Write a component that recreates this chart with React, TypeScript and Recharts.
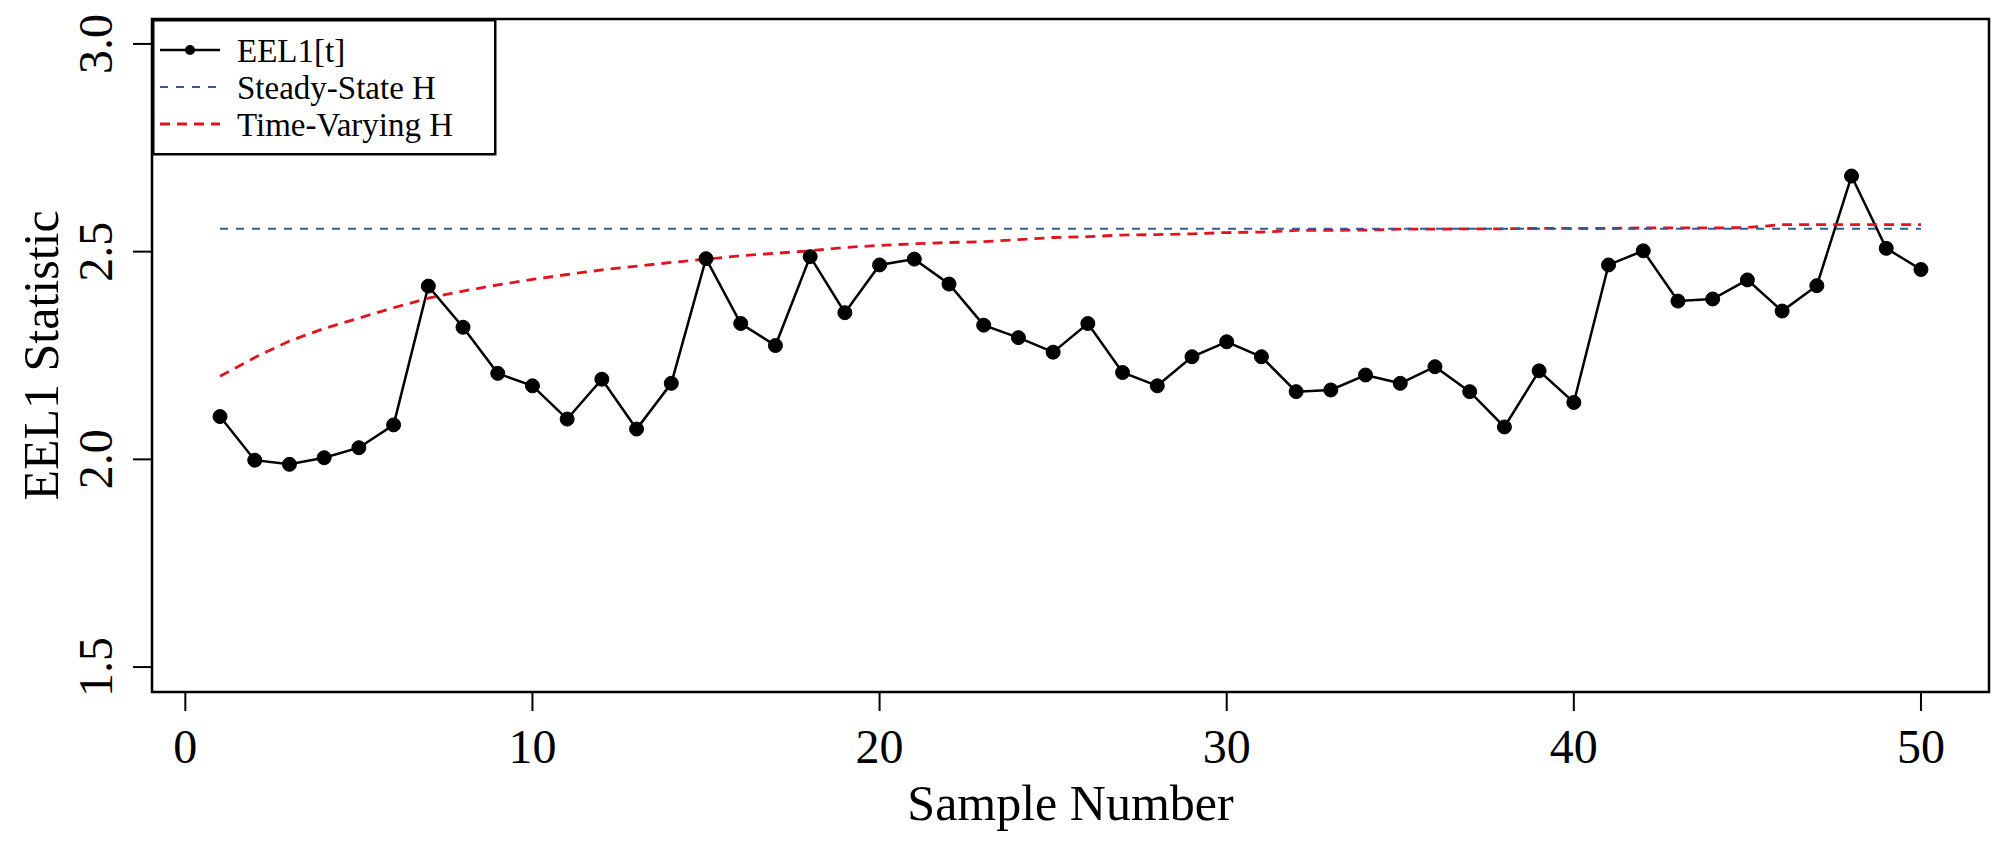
import { LineChart, Line, XAxis, YAxis, ReferenceArea, ReferenceLine, Legend, Label } from 'recharts';

const SAMPLES = [
  1, 2, 3, 4, 5, 6, 7, 8, 9, 10, 11, 12, 13, 14, 15, 16, 17, 18, 19, 20, 21, 22, 23, 24, 25,
  26, 27, 28, 29, 30, 31, 32, 33, 34, 35, 36, 37, 38, 39, 40, 41, 42, 43, 44, 45, 46, 47, 48, 49, 50,
];

const EEL1 = [
  2.103, 1.998, 1.988, 2.004, 2.028, 2.083, 2.417, 2.318, 2.207, 2.177,
  2.097, 2.193, 2.073, 2.183, 2.483, 2.327, 2.274, 2.488, 2.353, 2.468,
  2.482, 2.422, 2.323, 2.293, 2.258, 2.327, 2.209, 2.177, 2.247, 2.283,
  2.247, 2.163, 2.167, 2.203, 2.183, 2.223, 2.163, 2.078, 2.213, 2.137,
  2.468, 2.502, 2.381, 2.386, 2.432, 2.357, 2.418, 2.682, 2.508, 2.457,
];

const TIME_VARYING_H = [
  2.200, 2.245, 2.285, 2.315, 2.340, 2.365, 2.388, 2.405, 2.420, 2.433,
  2.445, 2.456, 2.465, 2.474, 2.482, 2.490, 2.496, 2.502, 2.510, 2.515,
  2.519, 2.522, 2.524, 2.529, 2.534, 2.536, 2.540, 2.541, 2.543, 2.546,
  2.547, 2.551, 2.551, 2.552, 2.554, 2.554, 2.555, 2.555, 2.556, 2.556,
  2.556, 2.557, 2.557, 2.557, 2.558, 2.565, 2.565, 2.565, 2.565, 2.565,
];

const STEADY_STATE_H = 2.555;

const X_TICKS = [0, 10, 20, 30, 40, 50];
const Y_TICKS = [1.5, 2.0, 2.5, 3.0];
const X_DOMAIN = [-0.96, 51.96];
const Y_DOMAIN = [1.44, 3.06];

const LEGEND_ITEMS = ['EEL1[t]', 'Steady-State H', 'Time-Varying H'];

const data = SAMPLES.map((x, i) => ({ x, eel1: EEL1[i], tv: TIME_VARYING_H[i] }));

const FONT = "'Liberation Serif', 'Times New Roman', serif";
const BLUE = '#335b8e';
const RED = '#e3121e';

const PLOT_TOP = 19;
const PLOT_BOTTOM = 692;

const YTick = ({ x, y, payload }: any) => (
  <text
    transform={`translate(${x},${y}) rotate(-90)`}
    textAnchor="middle"
    fontSize={48}
    fontFamily={FONT}
    fill="#000"
  >
    {Number(payload.value).toFixed(1)}
  </text>
);

const YTitle = () => (
  <text
    transform={`translate(58,${(PLOT_TOP + PLOT_BOTTOM) / 2}) rotate(-90)`}
    textAnchor="middle"
    fontSize={50}
    fontFamily={FONT}
    fill="#000"
  >
    EEL1 Statistic
  </text>
);

const LegendBox = () => {
  const rows = [31, 68, 105];
  return (
    <svg width={345} height={137} style={{ display: 'block' }}>
      <rect x={1.25} y={1.25} width={342} height={134} fill="#fff" stroke="#000" strokeWidth={2.5} />
      <line x1={8} x2={68} y1={rows[0]} y2={rows[0]} stroke="#000" strokeWidth={2.5} />
      <circle cx={38} cy={rows[0]} r={5} fill="#000" />
      <line x1={8} x2={68} y1={rows[1]} y2={rows[1]} stroke={BLUE} strokeWidth={2} strokeDasharray="8 8" />
      <line x1={8} x2={68} y1={rows[2]} y2={rows[2]} stroke={RED} strokeWidth={3} strokeDasharray="10 7" />
      {LEGEND_ITEMS.map((name, i) => (
        <text key={name} x={85} y={rows[i] + 12} fontSize={33} fontFamily={FONT} fill="#000">
          {name}
        </text>
      ))}
    </svg>
  );
};

export default function App() {
  return (
    <div style={{ position: 'absolute', left: 0, top: 0, background: '#fff' }}>
      <LineChart width={2000} height={852} data={data} margin={{ top: PLOT_TOP, right: 11, left: 0, bottom: 0 }}>
        <XAxis
          dataKey="x"
          type="number"
          domain={X_DOMAIN}
          ticks={X_TICKS}
          allowDataOverflow
          height={160}
          axisLine={false}
          tickSize={19}
          tickMargin={18}
          tickLine={{ stroke: '#000', strokeWidth: 2 }}
          tick={{ fontSize: 48, fontFamily: FONT, fill: '#000' }}
        >
          <Label value="Sample Number" position="insideBottom" offset={32} fontSize={50} fontFamily={FONT} fill="#000" />
        </XAxis>
        <YAxis
          type="number"
          domain={Y_DOMAIN}
          ticks={Y_TICKS}
          allowDataOverflow
          width={152}
          axisLine={false}
          tickSize={19}
          tickMargin={21}
          tickLine={{ stroke: '#000', strokeWidth: 2 }}
          tick={<YTick />}
          label={<YTitle />}
        />
        <ReferenceArea
          x1={X_DOMAIN[0]}
          x2={X_DOMAIN[1]}
          y1={Y_DOMAIN[0]}
          y2={Y_DOMAIN[1]}
          fill="none"
          stroke="#000"
          strokeWidth={2.5}
          ifOverflow="visible"
        />
        <Line
          dataKey="eel1"
          type="linear"
          stroke="#000"
          strokeWidth={2.5}
          dot={{ r: 7, fill: '#000', stroke: '#000', strokeWidth: 1 }}
          activeDot={false}
          isAnimationActive={false}
        />
        <Line
          dataKey="tv"
          type="linear"
          stroke={RED}
          strokeWidth={2.8}
          strokeDasharray="10 7"
          dot={false}
          activeDot={false}
          isAnimationActive={false}
        />
        <ReferenceLine
          segment={[
            { x: SAMPLES[0], y: STEADY_STATE_H },
            { x: SAMPLES[SAMPLES.length - 1], y: STEADY_STATE_H },
          ]}
          stroke={BLUE}
          strokeWidth={2}
          strokeDasharray="8 8"
        />
        <Legend
          layout="vertical"
          align="center"
          verticalAlign="middle"
          content={<LegendBox />}
          wrapperStyle={{ left: 152, top: 19, width: 345, height: 137 }}
        />
      </LineChart>
    </div>
  );
}
